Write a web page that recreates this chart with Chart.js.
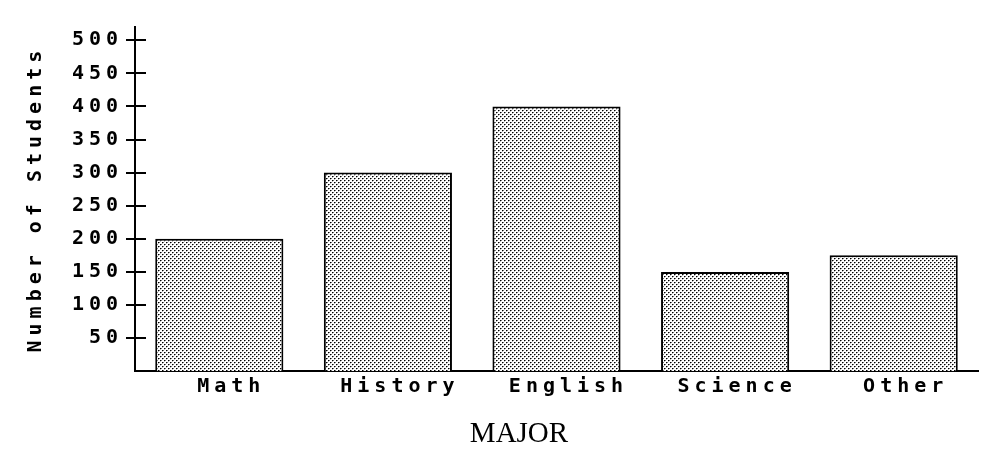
<!DOCTYPE html>
<html>
<head>
<meta charset="utf-8">
<script src="https://cdn.jsdelivr.net/npm/chart.js@4.4.0/dist/chart.umd.min.js"></script>
<style>
	html, body { margin: 0; padding: 0; background: #fff; }
	#wrap { width: 996px; height: 462px; }
</style>
</head>
<body>
<div id="wrap"><canvas id="bar-chart-major"></canvas></div>
<script>
var majors = ["Math", "History", "English", "Science", "Other"];
var students = [200, 300, 400, 150, 175];
var yTicks = [50, 100, 150, 200, 250, 300, 350, 400, 450, 500];

// little dotted fill like the old printout
function dotPattern() {
	var c = document.createElement('canvas');
	c.width = 4; c.height = 4;
	var g = c.getContext('2d');
	g.fillStyle = '#fff';
	g.fillRect(0, 0, 4, 4);
	g.fillStyle = '#000';
	g.fillRect(0, 0, 1, 1);
	g.fillRect(2, 2, 1, 1);
	g.fillStyle = '#777';
	g.fillRect(1, 0, 1, 1);
	g.fillRect(3, 2, 1, 1);
	g.fillStyle = '#bbb';
	g.fillRect(0, 1, 1, 1);
	g.fillRect(2, 3, 1, 1);
	return g.createPattern(c, 'repeat');
}

Chart.defaults.font.family = "'DejaVu Sans Mono', monospace";
Chart.defaults.font.weight = 'bold';
Chart.defaults.font.size = 20;
Chart.defaults.color = '#000';

// wide letter spacing for the mono labels, but not for the MAJOR title
var spacing = {
	id: 'spacing',
	afterLayout: function(chart) {
		var t = chart.titleBlock;
		if (t && !t._plain) {
			var draw = t.draw.bind(t);
			t.draw = function(area) {
				var ls = chart.ctx.letterSpacing;
				chart.ctx.letterSpacing = '0px';
				draw(area);
				chart.ctx.letterSpacing = ls;
			};
			t._plain = true;
		}
	},
	beforeDraw: function(chart) { chart.ctx.letterSpacing = '5px'; },
	afterDraw: function(chart) { chart.ctx.letterSpacing = '0px'; }
};

// tick marks cross the axis, so draw the inside half too
var innerTicks = {
	id: 'innerTicks',
	afterDatasetsDraw: function(chart) {
		var ctx = chart.ctx, y = chart.scales.y, left = chart.chartArea.left;
		ctx.save();
		ctx.strokeStyle = '#000';
		ctx.lineWidth = 2;
		yTicks.forEach(function(v) {
			var py = Math.round(y.getPixelForValue(v));
			ctx.beginPath();
			ctx.moveTo(left, py);
			ctx.lineTo(left + 11, py);
			ctx.stroke();
		});
		ctx.restore();
	}
};

new Chart(document.getElementById("bar-chart-major"), {
	type: 'bar',
	data: {
		labels: majors,
		datasets: [{
			data: students,
			backgroundColor: dotPattern(),
			borderColor: '#000',
			borderWidth: 2,
			barPercentage: 0.76,
			categoryPercentage: 1
		}]
	},
	plugins: [spacing, innerTicks],
	options: {
		responsive: true,
		maintainAspectRatio: false,
		animation: false,
		layout: { padding: { left: 60, right: 18, top: 27, bottom: 10 } },
		plugins: {
			legend: { display: false },
			tooltip: { enabled: false },
			title: {
				display: true,
				position: 'bottom',
				text: 'MAJOR',
				color: '#000',
				font: { family: "'Liberation Serif', serif", size: 29, weight: 'normal' },
				padding: { top: 14, bottom: 0 }
			}
		},
		scales: {
			x: {
				grid: { display: false, drawTicks: false },
				border: { display: true, color: '#000', width: 2 },
				ticks: { color: '#000', padding: 4, labelOffset: 12, maxRotation: 0, autoSkip: false }
			},
			y: {
				min: 0,
				max: 520,
				afterBuildTicks: function(axis) {
					axis.ticks = yTicks.map(function(v) { return { value: v }; });
				},
				afterFit: function(axis) { axis.width = 75; },
				grid: { drawOnChartArea: false, drawTicks: true, tickLength: 9, color: '#000', lineWidth: 2 },
				border: { display: true, color: '#000', width: 2 },
				ticks: { color: '#000', padding: 3 },
				title: {
					display: true,
					text: 'Number of Students',
					color: '#000',
					padding: { top: -36, bottom: 0 }
				}
			}
		}
	}
});
</script>
</body>
</html>
